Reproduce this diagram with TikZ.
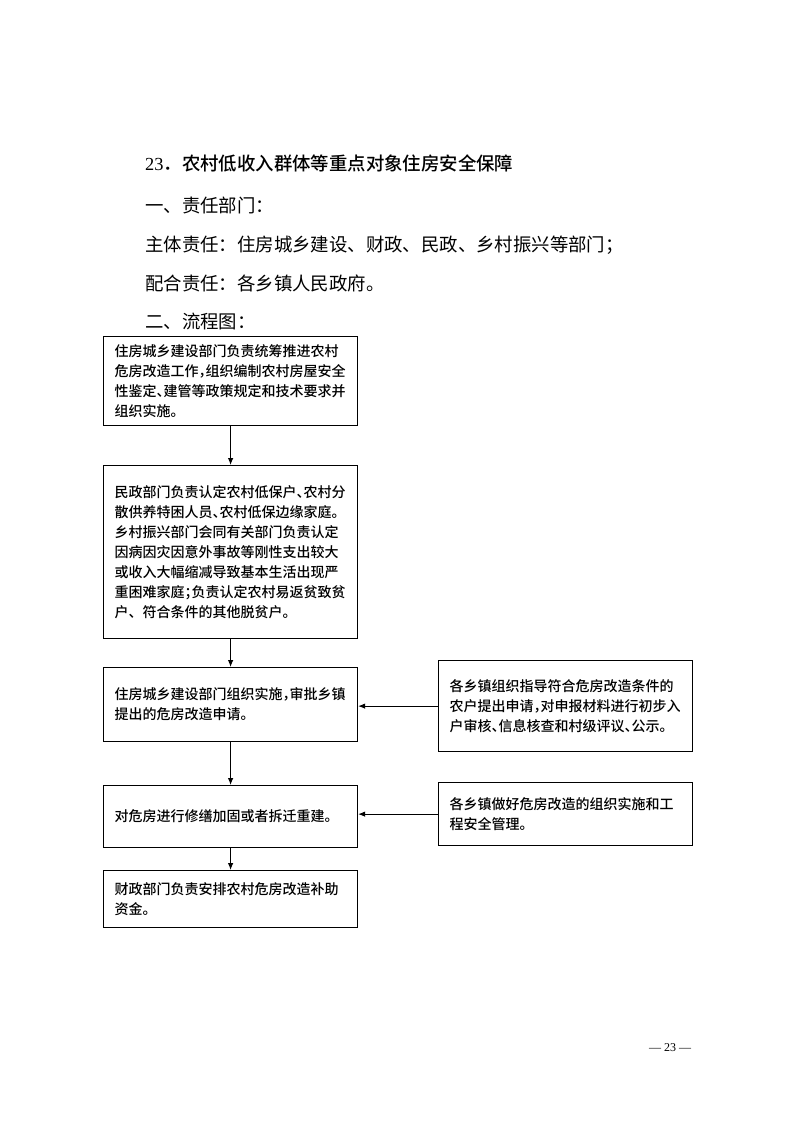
\documentclass[tikz,border=0pt]{standalone}
\usepackage{fontspec}
\setmainfont{Liberation Serif}
\newfontfamily\cjk{Noto Sans CJK SC}
\newfontfamily\cjkmed{Noto Sans CJK SC Medium}
\usetikzlibrary{arrows.meta}
% half-width punctuation, as in the reference boxes
\newcommand\hw[1]{\makebox[0.5em][l]{#1}}

\begin{document}
\begin{tikzpicture}[x=1pt,y=-1pt]
  \tikzstyle{flowbox}=[draw,line width=1.2pt,anchor=north west,inner xsep=11pt,inner ysep=2pt,
    text width=232pt,align=left,font=\cjkmed\fontsize{14}{20}\selectfont]
  \tikzstyle{heading}=[anchor=west,inner sep=0pt,font=\cjk\fontsize{18.4}{22}\selectfont]
  \tikzstyle{arr}=[-{Latex[length=7pt,width=5.5pt]},line width=0.9pt]
  \useasboundingbox[fill=white] (0,0) rectangle (793,1122);
  % heading lines
  \node[heading,font=\cjkmed\fontsize{18.4}{22}\selectfont] (title) at (145,163)
    {{\rmfamily 23}．农村低收入群体等重点对象住房安全保障};
  \node[heading] (dept) at (145,205) {一、责任部门：};
  \node[heading] (main) at (145,245) {主体责任：住房城乡建设、财政、民政、乡村振兴等部门；};
  \node[heading] (assist) at (145,283) {配合责任：各乡镇人民政府。};
  \node[heading] (chart) at (145,322) {二、流程图：};
  % main column
  \node[flowbox,minimum height=89pt] (plan) at (103,336)
    {住房城乡建设部门负责统筹推进农村\\危房改造工作\hw{，}组织编制农村房屋安全\\性鉴定\hw{、}建管等政策规定和技术要求并\\组织实施。};
  \node[flowbox,minimum height=173pt] (identify) at (103,465)
    {民政部门负责认定农村低保户\hw{、}农村分\\散供养特困人员\hw{、}农村低保边缘家庭。\\乡村振兴部门会同有关部门负责认定\\因病因灾因意外事故等刚性支出较大\\或收入大幅缩减导致基本生活出现严\\重困难家庭\hw{；}负责认定农村易返贫致贫\\户、符合条件的其他脱贫户。};
  \node[flowbox,minimum height=74pt] (approve) at (103,667)
    {住房城乡建设部门组织实施\hw{，}审批乡镇\\提出的危房改造申请。};
  \node[flowbox,minimum height=62pt] (repair) at (103,785)
    {对危房进行修缮加固或者拆迁重建。};
  \node[flowbox,minimum height=57pt] (fund) at (103,870)
    {财政部门负责安排农村危房改造补助\\资金。};
  % side column
  \node[flowbox,minimum height=91pt] (apply) at (438,660)
    {各乡镇组织指导符合危房改造条件的\\农户提出申请\hw{，}对申报材料进行初步入\\户审核\hw{、}信息核查和村级评议\hw{、}公示。};
  \node[flowbox,minimum height=63pt] (manage) at (438,782)
    {各乡镇做好危房改造的组织实施和工\\程安全管理。};
  % connectors
  \draw[arr] (plan) -- (identify);
  \draw[arr] (identify) -- (approve);
  \draw[arr] (approve) -- (repair);
  \draw[arr] (repair) -- (fund);
  \draw[arr] (apply.west) -- (apply.west -| approve.east);
  \draw[arr] (manage.west) -- (manage.west -| repair.east);
  % page number
  \node[font=\fontsize{12}{14}\selectfont] (page) at (670,1048) {— 23 —};
\end{tikzpicture}
\end{document}
